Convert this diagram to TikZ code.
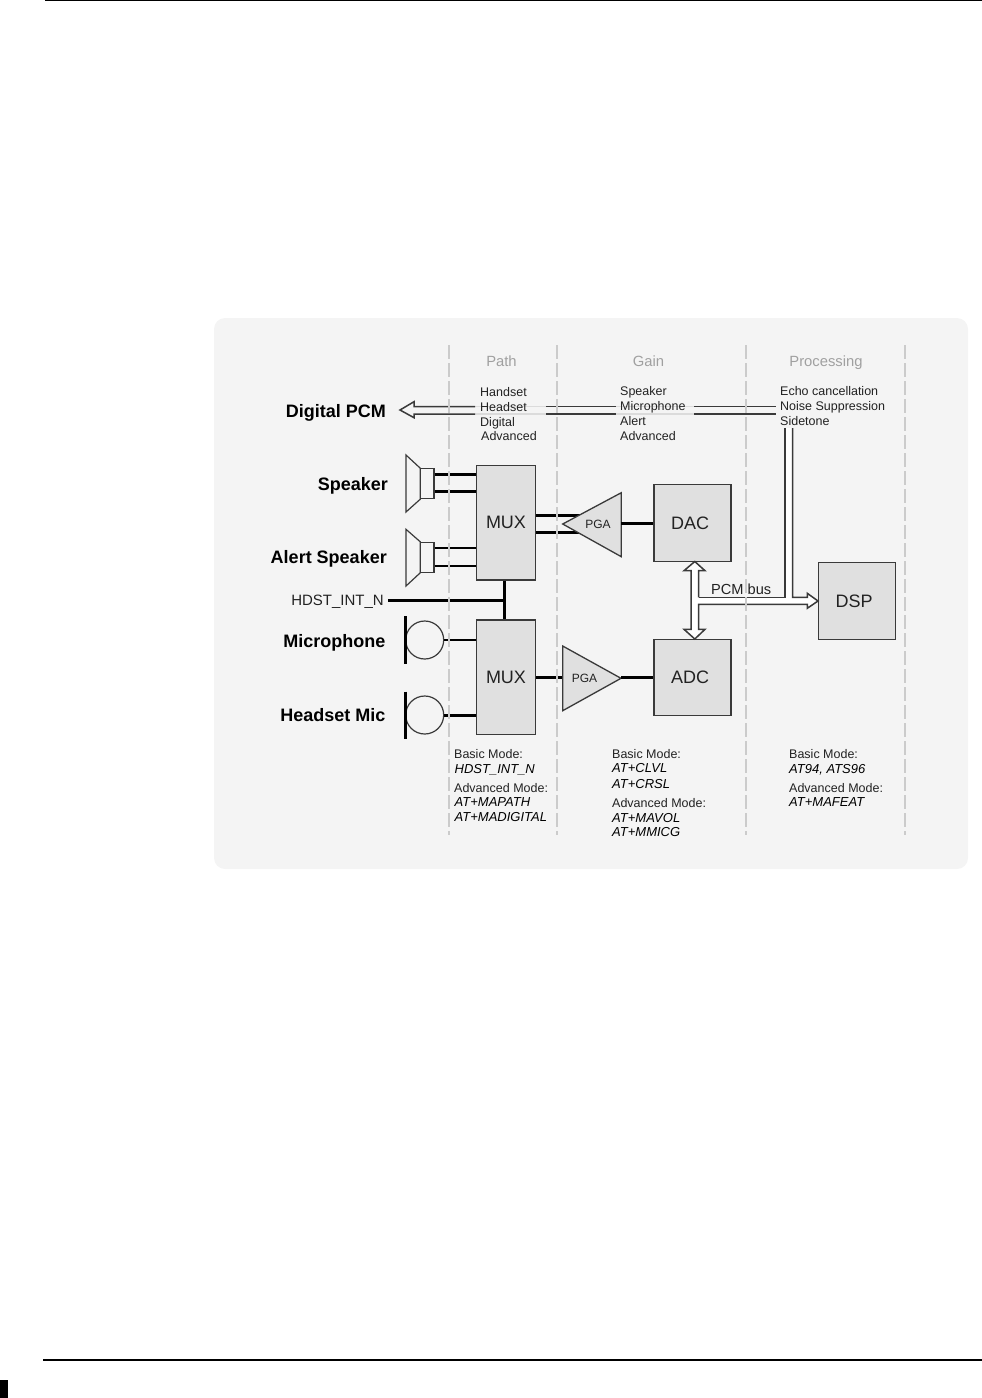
\documentclass[tikz,border=0pt]{standalone}
\usepackage{fontspec}
\setmainfont{Liberation Sans}
\usetikzlibrary{calc}
\definecolor{panel}{HTML}{F4F4F4}
\definecolor{boxfill}{HTML}{E0E0E0}
\definecolor{ink}{HTML}{3A3A3A}
\definecolor{dashc}{HTML}{CBCBCB}
\definecolor{headc}{HTML}{A0A0A0}
\definecolor{txt}{HTML}{222222}
\tikzset{
  x=1pt,y=-1pt,
  block/.style={draw=ink,fill=boxfill,line width=1.4pt,inner sep=0pt,text=txt,font=\fontsize{18}{18}\selectfont},
  spkbox/.style={draw=ink,fill=panel,line width=1.2pt,inner sep=0pt,minimum width=13.3pt,minimum height=30pt},
  cone/.style={draw=ink,fill=panel,line width=1.2pt,line join=miter},
  pga/.style={draw=ink,fill=boxfill,line width=1.3pt,line join=miter},
  pgatext/.style={font=\fontsize{12}{12}\selectfont,text=txt,inner sep=0pt},
  biglabel/.style={text height=13pt,text depth=0pt,font=\fontsize{18}{18}\bfseries\selectfont,anchor=east,inner sep=0pt,text=black},
  head/.style={text height=10.7pt,text depth=0pt,font=\fontsize{14.8}{15}\selectfont,text=headc,inner sep=0pt},
  item/.style={text height=9pt,text depth=0pt,font=\fontsize{12.5}{13}\selectfont,anchor=west,inner sep=0pt,text=txt},
  cmd/.style={text height=9.4pt,text depth=0pt,font=\fontsize{13}{13}\itshape\selectfont,anchor=west,inner sep=0pt,text=black},
  wire/.style={draw=black,line width=2.2pt},
  wirebold/.style={draw=black,line width=3pt},
  divider/.style={draw=dashc,line width=2pt,dash pattern=on 14pt off 4pt},
  busline/.style={draw=ink,line width=1.5pt,line join=miter},
  rule/.style={draw=black,line width=1.3pt}
}
\begin{document}
\begin{tikzpicture}
\useasboundingbox (0,0) rectangle (982,1398);
% page furniture
\coordinate (tl) at (45,0.6); \coordinate (tr) at (982,0.6);
\coordinate (bl) at (43,1360); \coordinate (br) at (982,1360);
\draw[rule] (tl) -- (tr);
\draw[rule] (bl) -- (br);
\fill[black] (0,1380) rectangle (8,1398);
% panel
\fill[panel,rounded corners=11pt] (214,318) rectangle (968,869);

% blocks
\node[block,minimum width=58.6pt,minimum height=114.7pt] (mux1) at (506,522.6) {MUX};
\node[block,minimum width=58.6pt,minimum height=114.7pt] (mux2) at (506,677.3) {MUX};
\node[block,minimum width=77pt,minimum height=77pt] (dac) at (692.5,523.2) {\hspace*{-5pt}DAC};
\node[block,minimum width=77pt,minimum height=76pt] (adc) at (692.5,677.3) {\hspace*{-5pt}ADC};
\node[block,minimum width=77pt,minimum height=76.6pt] (dsp) at (857.2,601) {\hspace*{-6pt}DSP};

% speakers
\node[spkbox] (spk1) at (427.4,483.7) {};
\node[spkbox] (spk2) at (427.4,557.3) {};
\draw[cone] (spk1.north west) -- (406,455) -- (406,512) -- (spk1.south west) -- cycle;
\draw[cone] (spk2.north west) -- (406,529.3) -- (406,586) -- (spk2.south west) -- cycle;
\draw[wirebold] ([yshift=9.4pt]spk1.east) -- ([yshift=9.4pt]spk1.east -| mux1.west);
\draw[wire,line width=2.6pt] ([yshift=-8pt]spk1.east) -- ([yshift=-8pt]spk1.east -| mux1.west);
\draw[wire,line width=1.8pt] ([yshift=9pt]spk2.east) -- ([yshift=9pt]spk2.east -| mux1.west);
\draw[wire,line width=1.8pt] ([yshift=-8.4pt]spk2.east) -- ([yshift=-8.4pt]spk2.east -| mux1.west);

% microphones
\node[circle,draw=ink,fill=panel,line width=1.2pt,minimum size=38pt,inner sep=0pt] (mic1) at (424.7,640) {};
\node[circle,draw=ink,fill=panel,line width=1.2pt,minimum size=38pt,inner sep=0pt] (mic2) at (424.7,715) {};
\coordinate (b1t) at (405,616); \coordinate (b1b) at (405,664);
\coordinate (b2t) at (405,691.5); \coordinate (b2b) at (405,739);
\draw[wirebold] (b1t) -- (b1b);
\draw[wirebold] (b2t) -- (b2b);
\draw[wire,line width=2.5pt] (mic1.east) -- (mic1.east -| mux2.west);
\draw[wirebold] (mic2.east) -- (mic2.east -| mux2.west);

% HDST
\node[text height=10.8pt,text depth=0pt,font=\fontsize{15}{15}\selectfont,anchor=east,inner sep=0pt,text=txt] (hdst) at (384,600) {HDST\_INT\_N};
\coordinate (hj) at (504,600.3);
\draw[wirebold] (388,600.3) -- (hj);
\draw[wirebold] (mux1.south -| hj) -- (mux2.north -| hj);

% PGA top
\coordinate (p1tip) at (562.7,524); \coordinate (p1a) at (621.3,492.7); \coordinate (p1b) at (621.3,556.7);
\draw[wirebold,line width=2.8pt] ([yshift=7pt]mux1.east) -- ([yshift=7pt]mux1.east -| 580,0);
\draw[wirebold,line width=2.8pt] ([yshift=-9.7pt]mux1.east) -- ([yshift=-9.7pt]mux1.east -| 580,0);
\draw[pga] (p1tip) -- (p1a) -- (p1b) -- cycle;
\node[pgatext] (pga1) at (598,524) {PGA};
\draw[wirebold] (dac.west -| p1a) -- (dac.west);

% PGA bottom
\coordinate (p2tip) at (621,678.3); \coordinate (p2a) at (562.7,646); \coordinate (p2b) at (562.7,710.7);
\draw[wire,line width=2.5pt] (mux2.east) -- (mux2.east -| p2a);
\draw[pga] (p2tip) -- (p2a) -- (p2b) -- cycle;
\node[pgatext] (pga2) at (584.5,678) {PGA};
\draw[wirebold] (adc.west -| p2tip) -- (adc.west);

% digital PCM bus along the top
\coordinate (ptip) at (400,410);
\draw[draw=dashc!70,line width=1.2pt] (475,406.7) -- (546,406.7);
\draw[draw=dashc!70,line width=1.2pt] (475,414) -- (546,414);
\draw[draw=dashc!70,line width=1.2pt] (616,406.7) -- (694,406.7);
\draw[draw=dashc!70,line width=1.2pt] (616,414) -- (694,414);
\draw[busline] (475,406.7) -- (414,406.7) -- (414,401.7) -- (ptip) -- (414,417.7) -- (414,414) -- (475,414);
\draw[busline] (546,406.7) -- (616,406.7);
\draw[busline] (546,414) -- (616,414);
\draw[busline] (694,406.7) -- (775.7,406.7);
\draw[busline] (694,414) -- (775.7,414);

% PCM bus
\coordinate (dtip) at (694.8,561.5); \coordinate (atip) at (694.8,639);
\coordinate (stip) at (dsp.west);
\fill[white] (dtip) -- (705,570.7) -- (698.7,570.7) -- (698.7,597.3) -- (785,597.3) -- (785,428) -- (792.7,428) -- (792.7,597.3) -- (807.3,597.3) -- (807.3,593.3) -- (stip) -- (807.3,608.3) -- (807.3,604.3) -- (698.7,604.3) -- (698.7,629.3) -- (705,629.3) -- (atip) -- (684,629.3) -- (691,629.3) -- (691,570.7) -- (684,570.7) -- cycle;
\draw[busline] (698.7,597.3) -- (698.7,570.7) -- (705,570.7) -- (dtip) -- (684,570.7) -- (691,570.7) -- (691,629.3) -- (684,629.3) -- (atip) -- (705,629.3) -- (698.7,629.3) -- (698.7,604.3) -- (807.3,604.3) -- (807.3,608.3) -- (stip) -- (807.3,593.3) -- (807.3,597.3) -- (792.7,597.3) -- (792.7,428);
\draw[busline] (698.7,597.3) -- (785,597.3) -- (785,428);
\node[font=\fontsize{14.6}{15}\selectfont,anchor=base west,inner sep=0pt,text=txt] (pcm) at (711,594.5) {PCM bus};

% dividers
\foreach \n/\x in {da/448.5,db/557,dc/746,dd/905}{
  \coordinate (\n t) at (\x,345); \coordinate (\n b) at (\x,835);
  \draw[divider] (\n t) -- (\n b);
}

% column heads
\node[head] (h1) at (501.5,361) {Path};
\node[head] (h2) at (648.5,361) {Gain};
\node[head] (h3) at (826,361) {Processing};

% big labels
\node[biglabel] (l1) at (386,411) {Digital PCM};
\node[biglabel] (l2) at (388,484) {Speaker};
\node[biglabel] (l3) at (387,557) {Alert Speaker};
\node[biglabel] (l4) at (385.5,641) {Microphone};
\node[biglabel] (l5) at (385.5,715) {Headset Mic};

% lists
\node[item] (a1) at (480,392) {Handset};
\node[item] (a2) at (480,407) {Headset};
\node[item] (a3) at (480,422) {Digital};
\node[item] (a4) at (481,436) {Advanced};
\node[item] (b1) at (620,391) {Speaker};
\node[item] (b2) at (620,406) {Microphone};
\node[item] (b3) at (620,421) {Alert};
\node[item] (b4) at (620,435.5) {Advanced};
\node[item] (c1) at (780,391) {Echo cancellation};
\node[item] (c2) at (780,406) {Noise Suppression};
\node[item] (c3) at (780,421) {Sidetone};

% modes
\node[item] (m1) at (454,754) {Basic Mode:};
\node[cmd] (m2) at (454.5,769) {HDST\_INT\_N};
\node[item] (m3) at (454,788) {Advanced Mode:};
\node[cmd] (m4) at (454.5,802) {AT+MAPATH};
\node[cmd] (m5) at (454.5,817) {AT+MADIGITAL};
\node[item] (n1) at (612,753.5) {Basic Mode:};
\node[cmd] (n2) at (612,768) {AT+CLVL};
\node[cmd] (n3) at (612,783.5) {AT+CRSL};
\node[item] (n4) at (612,803) {Advanced Mode:};
\node[cmd] (n5) at (612,818) {AT+MAVOL};
\node[cmd] (n6) at (612,832) {AT+MMICG};
\node[item] (o1) at (789,753.5) {Basic Mode:};
\node[cmd] (o2) at (789,768.5) {AT94, ATS96};
\node[item] (o3) at (789,788) {Advanced Mode:};
\node[cmd] (o4) at (789,802) {AT+MAFEAT};
\end{tikzpicture}
\end{document}
